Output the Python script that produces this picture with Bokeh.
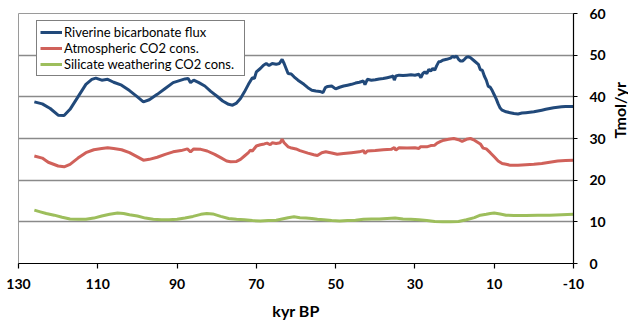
from bokeh.plotting import figure
from bokeh.models import Range1d, FixedTicker, Legend, LegendItem
from bokeh.embed import file_html
from bokeh.resources import INLINE

# Riverine bicarbonate flux (Tmol/yr) vs age (kyr BP)
riverine_kyr = [126, 124, 122, 120, 118.5, 117, 115, 113, 111.5, 110.5, 109, 107.5, 106, 104, 102, 100,
                98.5, 97, 95, 93, 91, 89, 88, 87.2, 86.6, 85.8, 84.5, 83, 81.5, 80, 78.5, 77, 76, 75,
                74, 73, 72, 71, 70.5, 70, 69, 68.2, 67.5, 66.8, 66, 65, 64.2, 63.5, 63, 62.5, 62, 61.2,
                60.5, 59.5, 58, 57, 56, 55, 54, 53.2, 52.6, 52, 51, 50, 49, 48, 47, 46, 45, 44, 43,
                42.6, 42, 41, 40, 39, 38, 37, 36, 35.5, 35.2, 34.8, 34, 33, 32, 31, 30, 29, 28.5, 28,
                27.5, 27, 26.5, 26, 25.5, 25, 24.5, 24, 23.5, 23, 22, 21, 20.5, 20, 19.5, 19, 18.5, 18,
                17.5, 17, 16.5, 16, 15, 14, 13.5, 13, 12.5, 12, 11.5, 11, 10.5, 10, 9.5, 9, 8.5, 8, 7,
                6, 5, 4, 3, 2, 1, 0, -1, -2, -3, -4, -5, -6, -7, -8, -9, -10]
riverine_flux = [38.8, 38.3, 37.2, 35.6, 35.5, 37.0, 40.0, 43.0, 44.2, 44.5, 44.0, 44.2, 43.5, 42.8, 41.5, 40.0,
                 38.8, 39.3, 40.6, 42.0, 43.4, 44.0, 44.3, 44.4, 43.4, 44.0, 43.4, 42.6, 41.3, 40.2, 39.0, 38.2, 38.0, 38.5,
                 39.6, 41.2, 43.0, 44.6, 44.4, 46.0, 46.8, 47.6, 48.0, 47.5, 48.0, 47.8, 48.0, 49.0, 48.0, 46.8, 45.6, 45.5,
                 44.8, 44.0, 43.0, 42.2, 41.6, 41.4, 41.3, 41.0, 42.2, 42.5, 42.6, 41.9, 42.3, 42.6, 42.8, 43.0, 43.3, 43.5, 43.8,
                 42.9, 44.2, 44.0, 44.1, 44.3, 44.4, 44.6, 44.8, 45.0, 44.0, 45.0, 45.2, 45.1, 45.2, 45.3, 45.2, 45.4, 44.6, 45.6,
                 46.0, 45.6, 46.6, 46.2, 46.8, 46.4, 47.5, 48.4, 48.5, 48.8, 49.0, 49.3, 49.7, 49.5, 49.8, 49.0, 48.6, 48.6,
                 49.0, 49.5, 49.6, 49.4, 48.6, 47.8, 46.5, 46.4, 45.0, 44.0, 42.5, 42.3, 41.5, 40.5, 39.5, 38.3, 37.3, 36.8, 36.4,
                 36.2, 36.0, 35.9, 36.1, 36.2, 36.3, 36.4, 36.6, 36.8, 37.0, 37.2, 37.4, 37.5, 37.6, 37.7, 37.7, 37.7]

# Atmospheric CO2 consumption (Tmol/yr)
atmos_kyr = [126, 124, 122.5, 120, 118.5, 117, 115, 113, 111, 109, 107.5, 106, 104, 102, 100, 98.5, 97, 95,
             93, 91, 89, 87.4, 86.6, 85.8, 84, 82.4, 80.5, 79, 77.5, 76.5, 75, 74, 73, 72, 71.5, 71, 70,
             69, 68, 67.3, 66.5, 66, 65, 64, 63.5, 63, 62, 61.4, 60, 59, 57, 55.5, 54.6, 53.5, 52.5, 51,
             49.6, 48, 46, 44, 43, 42.6, 42, 40, 38, 36, 35.2, 34.8, 34, 32, 30, 29, 28.6, 27, 26, 25,
             24.4, 23.5, 22.7, 21.5, 20.2, 19, 18.1, 17, 16, 15, 14, 13.5, 12.8, 12, 11, 10, 9, 8, 7, 6,
             4, 2, 0, -2, -4, -6, -8, -10]
atmos_cons = [25.8, 25.3, 24.3, 23.4, 23.2, 23.8, 25.3, 26.6, 27.3, 27.6, 27.8, 27.6, 27.3, 26.6, 25.6, 24.8, 25.0, 25.5,
              26.2, 26.8, 27.1, 27.5, 26.8, 27.5, 27.4, 27.0, 26.2, 25.4, 24.6, 24.4, 24.5, 25.0, 25.8, 26.6, 27.2, 27.0, 28.2,
              28.5, 28.7, 28.9, 28.5, 29.0, 28.8, 29.0, 29.8, 29.0, 28.0, 27.8, 27.5, 27.1, 26.5, 26.1, 25.9, 26.6, 26.8, 26.5,
              26.2, 26.4, 26.6, 26.8, 27.1, 26.4, 27.0, 27.1, 27.3, 27.4, 27.8, 27.2, 27.8, 27.7, 27.8, 27.6, 28.0, 28.0, 28.3, 28.4,
              28.9, 29.3, 29.6, 29.8, 30.0, 29.7, 29.3, 29.8, 30.0, 29.6, 29.0, 28.7, 27.7, 27.5, 26.6, 25.6, 24.6, 24.0, 23.8, 23.6,
              23.6, 23.7, 23.8, 24.0, 24.3, 24.6, 24.7, 24.8]

# Silicate weathering CO2 consumption (Tmol/yr)
silicate_kyr = [126, 124.5, 123, 121, 119, 117, 115, 113, 111, 109, 107, 105, 103.5, 102, 100, 98, 96, 94,
                92, 90, 88, 86, 84, 82.5, 81, 79, 77, 75, 73, 71, 69, 67, 65, 63.5, 62, 60.5, 59, 57.5,
                56, 54.6, 53, 51, 49, 47, 45, 43, 41, 39, 37, 35, 33, 31, 29, 27, 25, 23, 21, 19, 17, 15,
                13.5, 12, 11, 10, 8.5, 7, 5, 2, -1, -4, -7, -10]
silicate_cons = [12.8, 12.4, 12.0, 11.6, 11.1, 10.7, 10.6, 10.6, 10.9, 11.4, 11.8, 12.1, 12.0, 11.7, 11.4, 10.9, 10.6, 10.5,
                 10.5, 10.6, 10.9, 11.3, 11.8, 12.0, 11.9, 11.3, 10.8, 10.6, 10.5, 10.3, 10.2, 10.3, 10.4, 10.7, 11.0, 11.2, 11.0, 10.9,
                 10.8, 10.6, 10.5, 10.3, 10.2, 10.3, 10.4, 10.6, 10.7, 10.7, 10.8, 10.9, 10.7, 10.6, 10.5, 10.3, 10.1, 10.0, 10.0, 10.1, 10.5, 11.0,
                 11.6, 11.8, 12.0, 12.1, 11.9, 11.6, 11.5, 11.5, 11.6, 11.6, 11.7, 11.8]

x_ticks = [130, 110, 90, 70, 50, 30, 10, -10]
x_tick_labels = ["130", "110", "90", "70", "50", "30", "10", "-10"]
y_ticks = [0, 10, 20, 30, 40, 50, 60]
series_names = ["Riverine bicarbonate flux", "Atmospheric CO2 cons.", "Silicate weathering CO2 cons."]

FONT = "Lato"

p = figure(frame_width=555, frame_height=250, output_backend="svg", toolbar_location=None,
           x_range=Range1d(130, -10), y_range=Range1d(0, 60),
           y_axis_location="right",
           min_border_left=18, min_border_right=55, min_border_top=13, min_border_bottom=59)

p.background_fill_color = "white"
p.border_fill_color = "white"
p.outline_line_color = "#9a9a9a"
p.outline_line_width = 1

# grid
p.xgrid.visible = False
p.ygrid.ticker = FixedTicker(ticks=y_ticks)
p.ygrid.grid_line_color = "#8a8a8a"
p.ygrid.grid_line_width = 1.5

# axes
for ax in (p.xaxis[0], p.yaxis[0]):
    ax.axis_line_color = "black"
    ax.axis_line_width = 1.2
    ax.major_tick_line_color = "black"
    ax.major_tick_line_width = 1.2
    ax.major_tick_in = 0
    ax.minor_tick_line_color = None
    ax.major_label_text_font = FONT
    ax.major_label_text_font_style = "bold"
    ax.major_label_text_font_size = "14px"
    ax.major_label_text_color = "black"
    ax.axis_label_text_font = FONT
    ax.axis_label_text_font_style = "bold"
    ax.axis_label_text_font_size = "16px"
    ax.axis_label_text_color = "black"

p.xaxis.ticker = FixedTicker(ticks=x_ticks)
p.xaxis.major_label_overrides = dict(zip(x_ticks, x_tick_labels))
p.xaxis.major_tick_out = 5
p.xaxis.major_label_standoff = 10
p.xaxis.axis_label = "kyr BP"
p.xaxis.axis_label_standoff = 9

p.yaxis.ticker = FixedTicker(ticks=y_ticks)
p.yaxis.major_tick_out = 4
p.yaxis.major_label_standoff = 12
p.yaxis.axis_label = "Tmol/yr"
p.yaxis.axis_label_standoff = 11
# read the right-hand label from bottom to top
p.yaxis.axis_label_orientation = 1.5707963267948966

r1 = p.line(riverine_kyr, riverine_flux, line_color="#21497A", line_width=3)
r2 = p.line(atmos_kyr, atmos_cons, line_color="#D0615A", line_width=3)
r3 = p.line(silicate_kyr, silicate_cons, line_color="#9DBE5C", line_width=3)

legend = Legend(items=[LegendItem(label=series_names[0], renderers=[r1]),
                       LegendItem(label=series_names[1], renderers=[r2]),
                       LegendItem(label=series_names[2], renderers=[r3])],
                location=(18, 187), orientation="vertical")
legend.label_text_font = FONT
legend.label_text_font_size = "13px"
legend.label_text_color = "black"
legend.label_height = 14
legend.label_width = 177
legend.glyph_height = 14
legend.glyph_width = 22
legend.label_standoff = 2
legend.spacing = 0
legend.padding = 3
legend.margin = 0
legend.border_line_color = "black"
legend.border_line_width = 1
legend.background_fill_color = "white"
legend.background_fill_alpha = 1.0
p.add_layout(legend)

open("out.html", "w").write(file_html(p, INLINE))
